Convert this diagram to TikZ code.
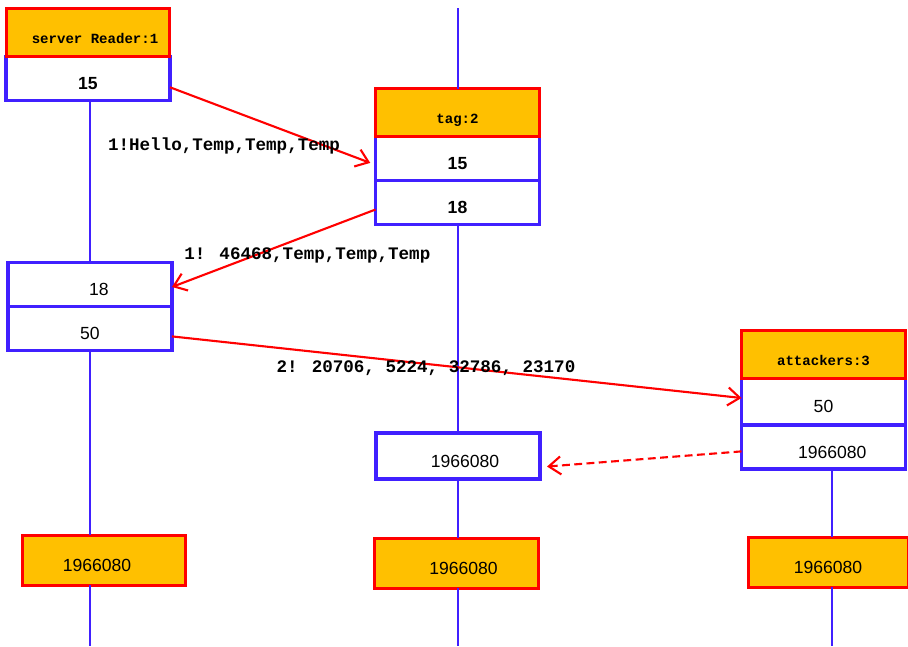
\documentclass[tikz,border=0pt]{standalone}
\usepackage{fontspec}
\setmainfont{Liberation Sans}
\newfontfamily\monofnt{Liberation Mono}
\usetikzlibrary{arrows.meta, positioning}
\definecolor{lifeblue}{RGB}{64,32,255}
\definecolor{hdrorange}{RGB}{255,192,0}
\definecolor{msgred}{RGB}{255,0,0}

\begin{document}
\begin{tikzpicture}[
    x=0.02cm, y=-0.02cm,
    node distance=0pt,
    head/.style={rectangle, draw=msgred, fill=hdrorange, line width=1.7pt, outer sep=0pt, minimum width=3.28cm, minimum height=0.96cm, text height=12.8pt, text depth=0pt, font=\monofnt\bfseries\fontsize{8}{9}\selectfont},
    field/.style={rectangle, draw=lifeblue, fill=white, line width=2pt, outer sep=0pt, minimum width=3.28cm, minimum height=0.88cm, text height=12.8pt, text depth=0pt, font=\fontsize{10}{12}\selectfont},
    final/.style={head, minimum height=1cm, font=\fontsize{10}{12}\selectfont},
    life/.style={draw=lifeblue, line width=1.1pt},
    msg/.style={draw=msgred, line width=1.2pt, -{Straight Barb[length=2.4mm, width=3.6mm]}},
    lbl/.style={font=\monofnt\bfseries\fontsize{10}{12}\selectfont, inner sep=0pt}
]
    \useasboundingbox (0,0) rectangle (908,646);

    % server reader
    \node [field] (s15) at (88,78.5) {\bfseries 15};
    \node [head, above=of s15] (shead) {\hspace*{8pt}server Reader:1};
    \node [field] (s18) at (90,284.5) {\hspace*{10pt}18};
    \node [field, below=of s18] (s50) {50};
    \node [final] (sbot) at (104,560) {1966080\hspace*{8pt}};

    % tag
    \node [field] (t15) at (457.5,158.5) {\bfseries 15};
    \node [head, above=of t15] (thead) {tag:2};
    \node [field, below=of t15] (t18) {\bfseries 18};
    \node [field, minimum height=0.92cm] (t19) at (458,456) {\hspace*{8pt}1966080};
    \node [final] (tbot) at (456.5,563) {\hspace*{8pt}1966080};

    % attackers
    \node [field, minimum height=0.94cm] (a50) at (823.5,401.5) {50};
    \node [head, above=of a50] (ahead) {attackers:3};
    \node [field, below=of a50] (a19) {\hspace*{10pt}1966080};
    \node [final, minimum width=3.2cm] (abot) at (828,562) {1966080};

    % lifelines
    \coordinate (top2) at (458,8);
    \coordinate (end1) at (90,646);
    \coordinate (end2) at (458,646);
    \coordinate (end3) at (832,646);
    \draw [life] (end1 |- s15.south) -- (end1 |- s18.north);
    \draw [life] (end1 |- s50.south) -- (end1 |- sbot.north);
    \draw [life] (end1 |- sbot.south) -- (end1);
    \draw [life] (top2) -- (top2 |- thead.north);
    \draw [life] (end2 |- t18.south) -- (end2 |- t19.north);
    \draw [life] (end2 |- t19.south) -- (end2 |- tbot.north);
    \draw [life] (end2 |- tbot.south) -- (end2);
    \draw [life] (end3 |- a19.south) -- (end3 |- abot.north);
    \draw [life] (end3 |- abot.south) -- (end3);

    % messages
    \draw [msg] ([yshift=-5pt]s15.east) -- node [lbl, pos=0.27, yshift=-21.5pt] (m1) {1!Hello,Temp,Temp,Temp} ([xshift=-3pt, yshift=-2.5pt]t15.west);
    \draw [msg] ([yshift=-4pt]t18.west) -- node [lbl, pos=0.335, yshift=-11.3pt] (m2) {1! 46468,Temp,Temp,Temp} ([yshift=-1.4pt]s18.east);
    \draw [msg] ([yshift=-4.5pt]s50.east) -- node [lbl, pos=0.446, yshift=-2.3pt] (m3) {2! 20706, 5224, 32786, 23170} ([yshift=2pt]a50.west);
    \draw [msg, dash pattern=on 4.5pt off 2.5pt] ([yshift=-2.5pt]a19.west) -- ([xshift=4pt, yshift=-6pt]t19.east);
\end{tikzpicture}
\end{document}
